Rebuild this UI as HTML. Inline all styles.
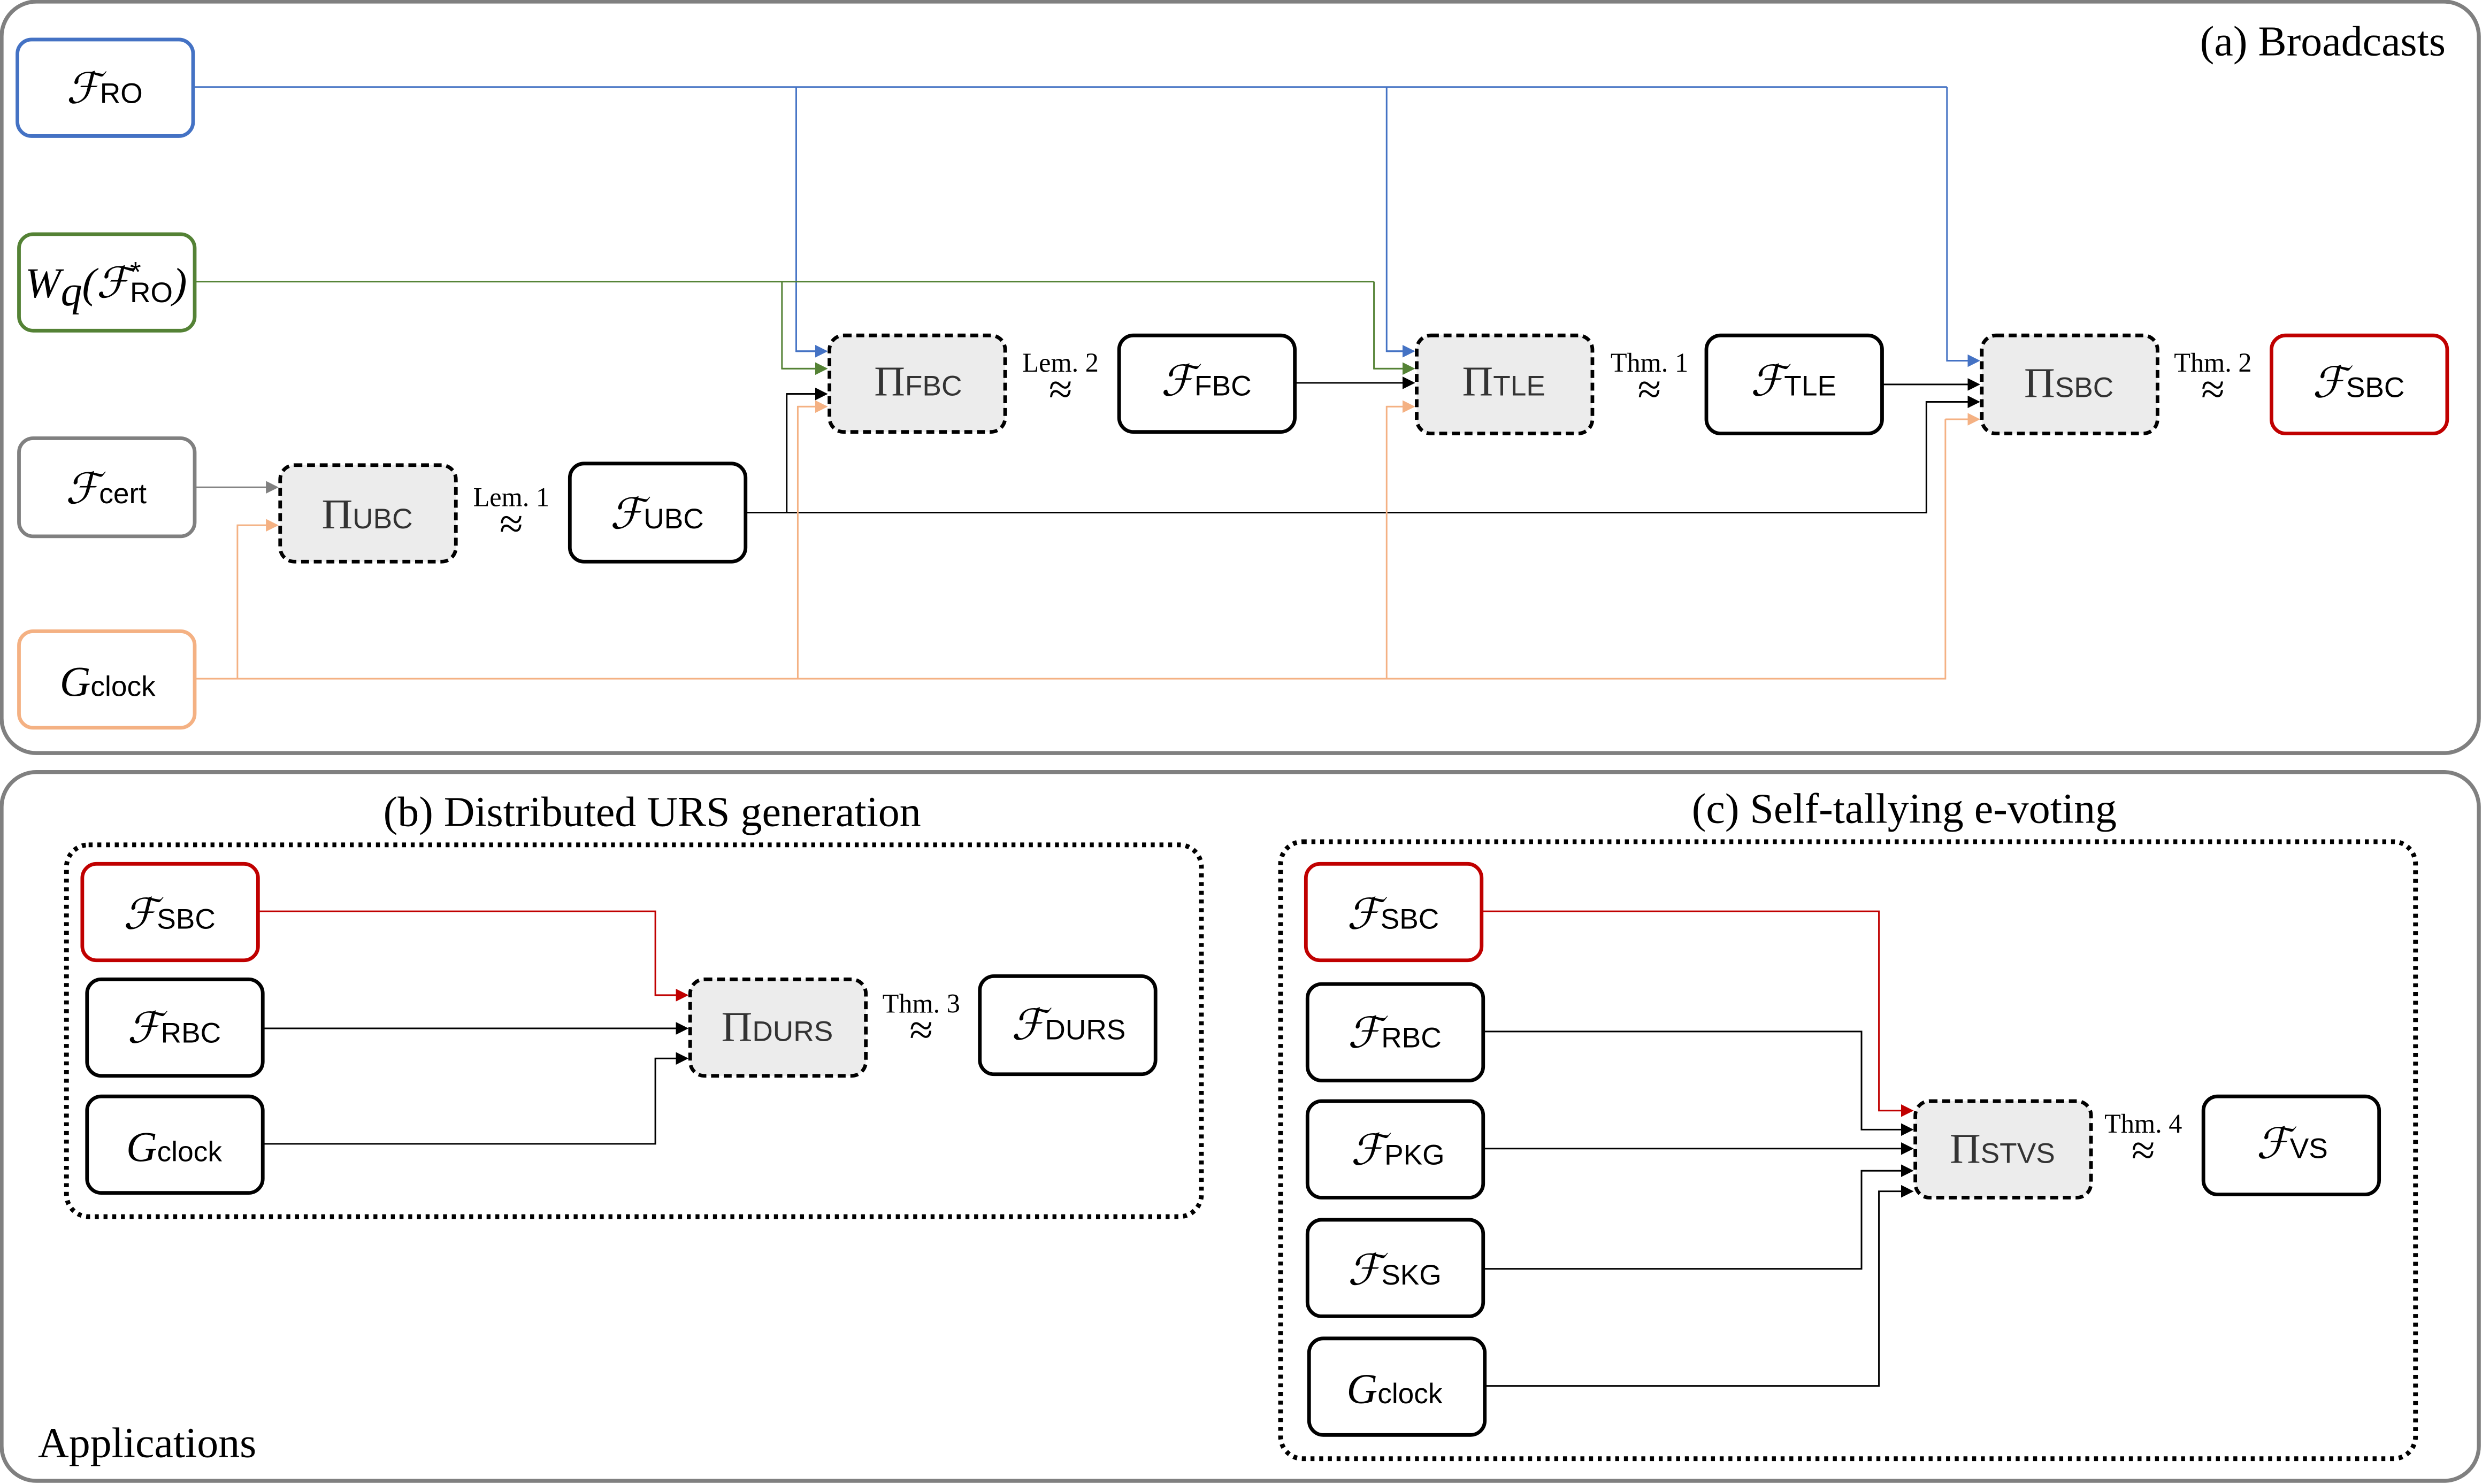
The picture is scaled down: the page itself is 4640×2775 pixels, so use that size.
<!DOCTYPE html>
<html><head><meta charset="utf-8"><style>
html,body{margin:0;padding:0;background:#fff}
svg{display:block}
text{font-family:"Liberation Serif","DejaVu Serif",serif;fill:#000}
.f{font-size:27px;font-style:italic}
.s{font-size:18px;font-family:"Liberation Sans","DejaVu Sans",sans-serif}
.t{font-size:17px}
.h{font-size:27px}
</style></head><body>
<svg width="4640" height="2775" viewBox="0 0 1568 938" preserveAspectRatio="none" xmlns="http://www.w3.org/2000/svg">
<defs>
<marker id="ab" markerWidth="8" markerHeight="8" refX="7" refY="4" orient="auto" markerUnits="userSpaceOnUse"><path d="M0,0L8,4L0,8z" fill="#000"/></marker>
<marker id="abl" markerWidth="8" markerHeight="8" refX="7" refY="4" orient="auto" markerUnits="userSpaceOnUse"><path d="M0,0L8,4L0,8z" fill="#4472c4"/></marker>
<marker id="ag" markerWidth="8" markerHeight="8" refX="7" refY="4" orient="auto" markerUnits="userSpaceOnUse"><path d="M0,0L8,4L0,8z" fill="#548235"/></marker>
<marker id="ao" markerWidth="8" markerHeight="8" refX="7" refY="4" orient="auto" markerUnits="userSpaceOnUse"><path d="M0,0L8,4L0,8z" fill="#f4b183"/></marker>
<marker id="agr" markerWidth="8" markerHeight="8" refX="7" refY="4" orient="auto" markerUnits="userSpaceOnUse"><path d="M0,0L8,4L0,8z" fill="#808080"/></marker>
<marker id="ar" markerWidth="8" markerHeight="8" refX="7" refY="4" orient="auto" markerUnits="userSpaceOnUse"><path d="M0,0L8,4L0,8z" fill="#c00000"/></marker>
</defs>
<rect x="1" y="1" width="1565" height="475" rx="22" fill="none" stroke="#808080" stroke-width="2.5"/>
<rect x="1" y="488" width="1565" height="448" rx="22" fill="none" stroke="#808080" stroke-width="2.5"/>
<text class="h" x="1545" y="35" text-anchor="end">(a) Broadcasts</text>
<text class="h" x="412" y="522" text-anchor="middle">(b) Distributed URS generation</text>
<text class="h" x="1203" y="520" text-anchor="middle">(c) Self-tallying e-voting</text>
<text class="h" x="24" y="921">Applications</text>

<g fill="none" stroke-width="1">
<path d="M122,55H1230M503,55V222H522M876,55V222H893M1230,55V228H1250" stroke="#4472c4"/>
<path d="M503,222H522" stroke="#4472c4" marker-end="url(#abl)"/>
<path d="M876,222H893" stroke="#4472c4" marker-end="url(#abl)"/>
<path d="M1230,228H1250" stroke="#4472c4" marker-end="url(#abl)"/>
<path d="M123,178H868M494,178V233H522M868,178V233H893" stroke="#548235"/>
<path d="M494,233H522" stroke="#548235" marker-end="url(#ag)"/>
<path d="M868,233H893" stroke="#548235" marker-end="url(#ag)"/>
<path d="M471,324H1217V254H1250M497,324V249H522" stroke="#000"/>
<path d="M497,249H522" stroke="#000" marker-end="url(#ab)"/>
<path d="M1217,254H1250" stroke="#000" marker-end="url(#ab)"/>
<path d="M818,242H893" stroke="#000" marker-end="url(#ab)"/>
<path d="M1189,243H1250" stroke="#000" marker-end="url(#ab)"/>
<path d="M123,308H175" stroke="#808080" marker-end="url(#agr)"/>
<path d="M123,429H1229V265M150,429V332H175M504,429V257H522M876,429V257H893" stroke="#f4b183"/>
<path d="M150,332H175" stroke="#f4b183" marker-end="url(#ao)"/>
<path d="M504,257H522" stroke="#f4b183" marker-end="url(#ao)"/>
<path d="M876,257H893" stroke="#f4b183" marker-end="url(#ao)"/>
<path d="M1229,265H1250" stroke="#f4b183" marker-end="url(#ao)"/>
<path d="M163,576H414V629H434" stroke="#c00000" marker-end="url(#ar)"/>
<path d="M166,650H434" stroke="#000" marker-end="url(#ab)"/>
<path d="M166,723H414V669H434" stroke="#000" marker-end="url(#ab)"/>
<path d="M936,576H1187V702H1208" stroke="#c00000" marker-end="url(#ar)"/>
<path d="M937,652H1176V714H1208" stroke="#000" marker-end="url(#ab)"/>
<path d="M937,726H1208" stroke="#000" marker-end="url(#ab)"/>
<path d="M937,802H1176V740H1208" stroke="#000" marker-end="url(#ab)"/>
<path d="M938,876H1187V753H1208" stroke="#000" marker-end="url(#ab)"/>
</g>

<rect x="42" y="534" width="717" height="235" rx="14" fill="none" stroke="#000" stroke-width="3" stroke-dasharray="2.5,3"/>
<rect x="809" y="532" width="717" height="390" rx="14" fill="none" stroke="#000" stroke-width="3" stroke-dasharray="2.5,3"/>

<g stroke-width="2.3" fill="#fff">
<rect x="11" y="25" width="111" height="61" rx="9" stroke="#4472c4"/>
<rect x="12" y="148" width="111" height="61" rx="9" stroke="#548235"/>
<rect x="12" y="277" width="111" height="62" rx="9" stroke="#808080"/>
<rect x="12" y="399" width="111" height="61" rx="9" stroke="#f4b183"/>
<rect x="360" y="293" width="111" height="62" rx="9" stroke="#000"/>
<rect x="707" y="212" width="111" height="61" rx="9" stroke="#000"/>
<rect x="1078" y="212" width="111" height="62" rx="9" stroke="#000"/>
<rect x="1435" y="212" width="111" height="62" rx="9" stroke="#c00000"/>
<rect x="52" y="546" width="111" height="61" rx="9" stroke="#c00000"/>
<rect x="55" y="619" width="111" height="61" rx="9" stroke="#000"/>
<rect x="55" y="693" width="111" height="61" rx="9" stroke="#000"/>
<rect x="619" y="617" width="111" height="62" rx="9" stroke="#000"/>
<rect x="825" y="546" width="111" height="61" rx="9" stroke="#c00000"/>
<rect x="826" y="622" width="111" height="61" rx="9" stroke="#000"/>
<rect x="826" y="696" width="111" height="61" rx="9" stroke="#000"/>
<rect x="826" y="771" width="111" height="61" rx="9" stroke="#000"/>
<rect x="827" y="846" width="111" height="61" rx="9" stroke="#000"/>
<rect x="1392" y="693" width="111" height="62" rx="9" stroke="#000"/>
</g>
<g stroke-width="2.3" fill="#ececec" stroke="#000" stroke-dasharray="5,3">
<rect x="177" y="294" width="111" height="61" rx="9"/>
<rect x="524" y="212" width="111" height="61" rx="9"/>
<rect x="895" y="212" width="111" height="62" rx="9"/>
<rect x="1252" y="212" width="111" height="62" rx="9"/>
<rect x="436" y="619" width="111" height="61" rx="9"/>
<rect x="1210" y="696" width="111" height="61" rx="9"/>
</g>

<g text-anchor="middle">
<text x="66" y="65"><tspan class="f">ℱ</tspan><tspan class="s">RO</tspan></text>
<text x="67" y="188"><tspan class="f">W</tspan><tspan class="f" font-size="19" dy="5">q</tspan><tspan class="f" dy="-5">(ℱ</tspan><tspan class="s" font-size="13" dy="-10">*</tspan><tspan class="s" dx="-7" dy="13">RO</tspan><tspan class="f" dy="-3">)</tspan></text>
<text x="67" y="318"><tspan class="f">ℱ</tspan><tspan class="s">cert</tspan></text>
<text x="68" y="440"><tspan class="f">G</tspan><tspan class="s">clock</tspan></text>
<text x="232" y="334"><tspan class="h" fill="#333">Π</tspan><tspan class="s" fill="#333">UBC</tspan></text>
<text x="415" y="334"><tspan class="f">ℱ</tspan><tspan class="s">UBC</tspan></text>
<text x="580" y="250"><tspan class="h" fill="#333">Π</tspan><tspan class="s" fill="#333">FBC</tspan></text>
<text x="762" y="250"><tspan class="f">ℱ</tspan><tspan class="s">FBC</tspan></text>
<text x="950" y="250"><tspan class="h" fill="#333">Π</tspan><tspan class="s" fill="#333">TLE</tspan></text>
<text x="1133" y="250"><tspan class="f">ℱ</tspan><tspan class="s">TLE</tspan></text>
<text x="1307" y="251"><tspan class="h" fill="#333">Π</tspan><tspan class="s" fill="#333">SBC</tspan></text>
<text x="1490" y="251"><tspan class="f">ℱ</tspan><tspan class="s">SBC</tspan></text>
<text x="107" y="587"><tspan class="f">ℱ</tspan><tspan class="s">SBC</tspan></text>
<text x="110" y="659"><tspan class="f">ℱ</tspan><tspan class="s">RBC</tspan></text>
<text x="110" y="734"><tspan class="f">G</tspan><tspan class="s">clock</tspan></text>
<text x="491" y="658"><tspan class="h" fill="#333">Π</tspan><tspan class="s" fill="#333">DURS</tspan></text>
<text x="675" y="657"><tspan class="f">ℱ</tspan><tspan class="s">DURS</tspan></text>
<text x="880" y="587"><tspan class="f">ℱ</tspan><tspan class="s">SBC</tspan></text>
<text x="881" y="662"><tspan class="f">ℱ</tspan><tspan class="s">RBC</tspan></text>
<text x="883" y="736"><tspan class="f">ℱ</tspan><tspan class="s">PKG</tspan></text>
<text x="881" y="812"><tspan class="f">ℱ</tspan><tspan class="s">SKG</tspan></text>
<text x="881" y="887"><tspan class="f">G</tspan><tspan class="s">clock</tspan></text>
<text x="1265" y="735"><tspan class="h" fill="#333">Π</tspan><tspan class="s" fill="#333">STVS</tspan></text>
<text x="1448" y="732"><tspan class="f">ℱ</tspan><tspan class="s">VS</tspan></text>

<text class="t" x="323" y="320">Lem. 1</text><text class="h" x="323" y="340">≈</text>
<text class="t" x="670" y="235">Lem. 2</text><text class="h" x="670" y="255">≈</text>
<text class="t" x="1042" y="235">Thm. 1</text><text class="h" x="1042" y="255">≈</text>
<text class="t" x="1398" y="235">Thm. 2</text><text class="h" x="1398" y="255">≈</text>
<text class="t" x="582" y="640">Thm. 3</text><text class="h" x="582" y="660">≈</text>
<text class="t" x="1354" y="716">Thm. 4</text><text class="h" x="1354" y="736">≈</text>
</g>
</svg>
</body></html>
